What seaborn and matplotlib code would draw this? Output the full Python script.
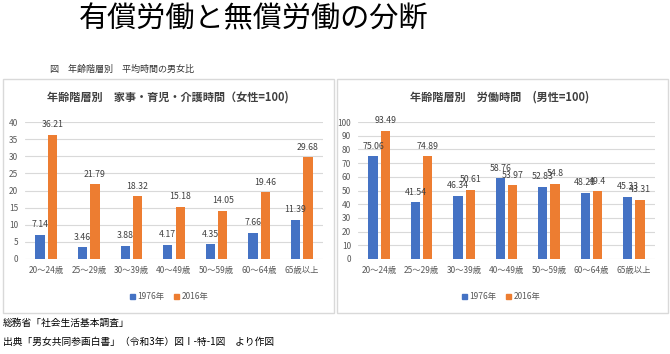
import matplotlib
matplotlib.use("Agg")
import matplotlib.pyplot as plt
from matplotlib.patches import Rectangle
import seaborn as sns
import pandas as pd

ages = ["20～24歳", "25～29歳", "30～39歳", "40～49歳", "50～59歳", "60～64歳", "65歳以上"]
years = ["1976年", "2016年"]
house_1976 = [7.14, 3.46, 3.88, 4.17, 4.35, 7.66, 11.39]
house_2016 = [36.21, 21.79, 18.32, 15.18, 14.05, 19.46, 29.68]
work_1976 = [75.06, 41.54, 46.34, 58.76, 52.83, 48.28, 45.33]
work_2016 = [93.49, 74.89, 50.61, 53.97, 54.8, 49.4, 43.31]

main_title = "有償労働と無償労働の分断"
sub_title = "図　年齢階層別　平均時間の男女比"
left_title = "年齢階層別　家事・育児・介護時間（女性=100)"
right_title = "年齢階層別　労働時間　(男性=100)"
note1 = "総務省「社会生活基本調査」"
note2 = "出典「男女共同参画白書」（令和3年）図Ⅰ-特-1図　より作図"

sns.set_theme(style="white")
plt.rcParams['font.family'] = ['Noto Sans CJK JP', 'DejaVu Sans']

colors = {"1976年": "#4472C4", "2016年": "#ED7D31"}
W, H = 670, 354
fig = plt.figure(figsize=(6.7, 3.54), dpi=100)


def fx(x):
    return x / W


def fy(y):
    return 1 - y / H


# panel boxes
for x0, x1 in [(3, 334), (337, 668)]:
    fig.patches.append(Rectangle((fx(x0), fy(313)), fx(x1 - x0), (313 - 79) / H,
                                 transform=fig.transFigure, fill=False,
                                 edgecolor="#D9D9D9", linewidth=1.0))


def make_df(a, b):
    return pd.DataFrame({
        "age": ages * 2,
        "year": [years[0]] * len(ages) + [years[1]] * len(ages),
        "value": list(a) + list(b),
    })


def draw(ax_rect, a, b, ymax, step, title, tx, legend_cx):
    ax = fig.add_axes(ax_rect)
    df = make_df(a, b)
    sns.barplot(data=df, x="age", y="value", hue="year", palette=colors,
                width=0.58, gap=0.25, ax=ax, legend=False, saturation=1,
                edgecolor="none")
    ax.set_ylim(0, ymax)
    ax.set_yticks(range(0, ymax + 1, step))
    ax.set_xlim(-0.5, len(ages) - 0.5)
    ax.grid(axis="y", color="#D9D9D9", linewidth=0.8)
    ax.set_axisbelow(True)
    for s in ax.spines.values():
        s.set_visible(False)
    ax.tick_params(axis="both", length=0, labelsize=6, colors="#595959", pad=5)
    ax.tick_params(axis="x", pad=5)
    ax.set_xlabel("")
    ax.set_ylabel("")
    for cont in ax.containers:
        ax.bar_label(cont, labels=[f"{v:g}" for v in cont.datavalues],
                     padding=4, fontsize=6.3, color="#404040")
    fig.text(fx(tx), fy(97), title, ha="center", va="center", fontsize=8,
             color="#404040", fontweight="bold")
    handles = [Rectangle((0, 0), 1, 1, color=colors[y]) for y in years]
    fig.legend(handles, years, loc="center", bbox_to_anchor=(fx(legend_cx), fy(297)),
               ncol=2, frameon=False, fontsize=6, handlelength=0.6, handleheight=0.6,
               handletextpad=0.3, columnspacing=1.2, labelcolor="#595959")
    return ax


draw([fx(25), fy(259), fx(323 - 25), (259 - 122) / H], house_1976, house_2016,
     40, 5, left_title, 168, 169)
draw([fx(358), fy(259), fx(655 - 358), (259 - 122) / H], work_1976, work_2016,
     100, 10, right_title, 500, 501)

fig.text(fx(79), fy(27), main_title, ha="left", va="baseline", fontsize=21, color="black")
fig.text(fx(50), fy(69), sub_title, ha="left", va="center", fontsize=6.5, color="#333333")
fig.text(fx(3), fy(323), note1, ha="left", va="center", fontsize=7, color="black")
fig.text(fx(3), fy(342), note2, ha="left", va="center", fontsize=7, color="black")

fig.savefig("out.png", dpi=100)
